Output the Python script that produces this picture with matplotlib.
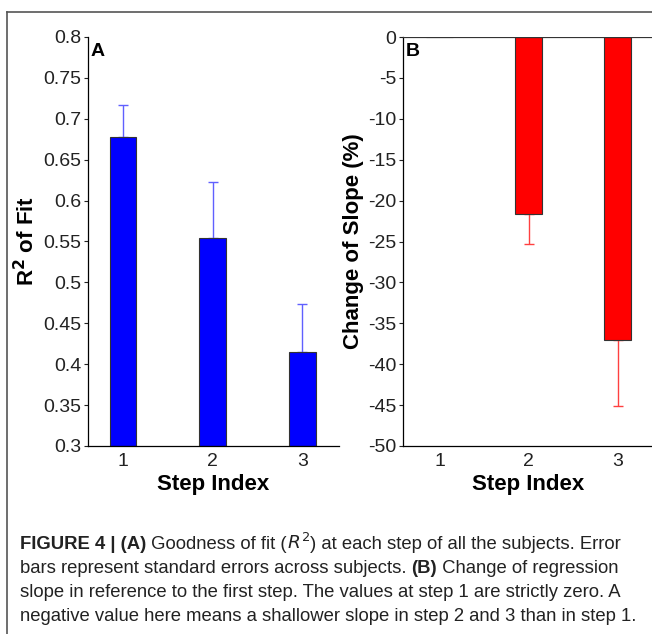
import matplotlib.pyplot as plt
from matplotlib.lines import Line2D

# data
steps = [1, 2, 3]
r2_fit = [0.678, 0.554, 0.415]
r2_err = [0.039, 0.069, 0.059]
slope_change = [0.0, -21.6, -37.0]
slope_err = [0.0, 3.7, 8.1]

r2_ticks = [0.3, 0.35, 0.4, 0.45, 0.5, 0.55, 0.6, 0.65, 0.7, 0.75, 0.8]
r2_ticklabels = ['0.3', '0.35', '0.4', '0.45', '0.5', '0.55', '0.6', '0.65', '0.7', '0.75', '0.8']
slope_ticks = [-50, -45, -40, -35, -30, -25, -20, -15, -10, -5, 0]

plt.rcParams['font.family'] = ['Liberation Sans', 'DejaVu Sans']
plt.rcParams['axes.unicode_minus'] = False

fig = plt.figure(figsize=(6.52, 6.34), dpi=100)

# outer frame (left and top lines)
fig.add_artist(Line2D([7/652, 7/652], [0, 1 - 12/634], transform=fig.transFigure, color='#555555', lw=1.2))
fig.add_artist(Line2D([7/652, 1], [1 - 12/634, 1 - 12/634], transform=fig.transFigure, color='#555555', lw=1.2))

axA = fig.add_axes([88/652, 1 - 446/634, 251/652, 409/634])
axB = fig.add_axes([403/652, 1 - 446/634, 251/652, 409/634])

# panel A
axA.errorbar(steps, r2_fit, yerr=[[0, 0, 0], r2_err], fmt='none', ecolor='#6060ff',
             elinewidth=1, capsize=3.5, capthick=1, zorder=1)
axA.bar(steps, [v - 0.3 for v in r2_fit], bottom=0.3, width=0.3, color='#0000ff',
        edgecolor='#333333', linewidth=0.8, zorder=2)
axA.set_xlim(0.61, 3.41)
axA.set_ylim(0.3, 0.8)
axA.set_yticks(r2_ticks)
axA.set_yticklabels(r2_ticklabels)
axA.set_ylabel('R$^\\mathbf{2}$ of Fit', fontsize=16, fontweight='bold', labelpad=3)
axA.text(0.01, 0.985, 'A', transform=axA.transAxes, fontsize=14, fontweight='bold', va='top', ha='left')

# panel B
axB.errorbar(steps[1:], slope_change[1:], yerr=[slope_err[1:], [0, 0]], fmt='none',
             ecolor='#ff4040', elinewidth=1, capsize=3.5, capthick=1, zorder=1)
axB.bar(steps, slope_change, width=0.3, color='#ff0000', edgecolor='#333333',
        linewidth=0.8, zorder=2)
axB.axhline(0, color='#333333', lw=1.6, zorder=3)
axB.set_xlim(0.59, 3.41)
axB.set_ylim(-50, 0)
axB.set_yticks(slope_ticks)
axB.set_ylabel('Change of Slope (%)', fontsize=16, fontweight='bold', labelpad=3)
axB.text(0.01, 0.985, 'B', transform=axB.transAxes, fontsize=14, fontweight='bold', va='top', ha='left')

for ax in (axA, axB):
    for s in ('top', 'right'):
        ax.spines[s].set_visible(False)
    ax.spines['left'].set_linewidth(0.9)
    ax.spines['bottom'].set_linewidth(0.9)
    ax.set_xticks(steps)
    ax.set_xticklabels([str(s) for s in steps])
    ax.tick_params(axis='x', length=0, labelsize=14, pad=5, colors='#222222')
    ax.tick_params(axis='y', length=3, width=0.8, direction='out', labelsize=14, pad=2, colors='#222222')
    ax.set_xlabel('Step Index', fontsize=16, fontweight='bold', labelpad=3)

# caption with mixed weights
cap_family = ['Liberation Sans Narrow', 'Liberation Sans', 'DejaVu Sans']
cap_size = 13.3
lines = [
    [('FIGURE 4 | (A)', 'bold'), (' Goodness of fit (', 'normal'), ('$R^2$', 'normal'),
     (') at each step of all the subjects. Error', 'normal')],
    [('bars represent standard errors across subjects. ', 'normal'), ('(B)', 'bold'),
     (' Change of regression', 'normal')],
    [('slope in reference to the first step. The values at step 1 are strictly zero. A', 'normal')],
    [('negative value here means a shallower slope in step 2 and 3 than in step 1.', 'normal')],
]
baselines = [549, 573, 597, 621]
fig.canvas.draw()
renderer = fig.canvas.get_renderer()
for segs, yb in zip(lines, baselines):
    x = 20
    for txt, w in segs:
        t = fig.text(x / 652, 1 - yb / 634, txt, fontsize=cap_size, fontweight=w,
                     family=cap_family, va='baseline', ha='left', color='#222222')
        bb = t.get_window_extent(renderer)
        x = bb.x1

fig.savefig('out.png', dpi=100)
